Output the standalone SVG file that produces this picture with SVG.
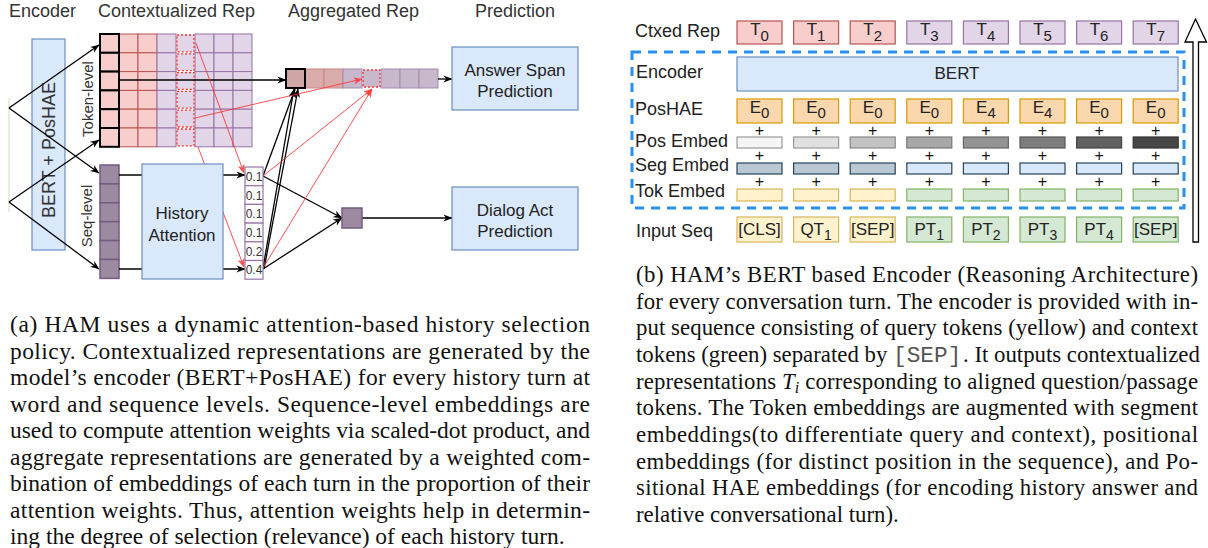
<svg xmlns="http://www.w3.org/2000/svg" width="1208" height="548" viewBox="0 0 1208 548">
<defs>
<marker id="ab" viewBox="0 0 10 10" refX="9.5" refY="5" markerWidth="9" markerHeight="9" markerUnits="userSpaceOnUse" orient="auto"><path d="M0,1 L10,5 L0,9 L3,5 z" fill="#000"/></marker>
<marker id="ar" viewBox="0 0 10 10" refX="9.5" refY="5" markerWidth="9" markerHeight="9" markerUnits="userSpaceOnUse" orient="auto"><path d="M0,1 L10,5 L0,9 L3,5 z" fill="#ff3333"/></marker>
<style>
.hd{font-family:"Liberation Sans",Arial,sans-serif;font-size:18px;fill:#333}
.lb{font-family:"Liberation Sans",Arial,sans-serif;font-size:18px;fill:#222}
.sm{font-family:"Liberation Sans",Arial,sans-serif;font-size:15px;fill:#333}
.wt{font-family:"Liberation Sans",Arial,sans-serif;font-size:12px;fill:#333}
.bx{font-family:"Liberation Sans",Arial,sans-serif;font-size:17px;fill:#222;text-anchor:middle}
.pl{font-family:"Liberation Sans",Arial,sans-serif;font-size:16px;fill:#111;text-anchor:middle}
.cap{font-family:"Liberation Serif","Times New Roman",serif;font-size:23.5px;fill:#111}
.capb{font-family:"Liberation Serif","Times New Roman",serif;font-size:22.8px;fill:#111}
.mono{font-family:"Liberation Mono",monospace;font-size:22.8px;fill:#555}
.blue{fill:#dae8fc;stroke:#6c8ebf;stroke-width:1.2}
.pk{fill:#f8cecc;stroke:#b85450;stroke-width:1}
.pu{fill:#e1d5e7;stroke:#9673a6;stroke-width:1}
.tokc{fill:#f8cecc;stroke:#000;stroke-width:2}
.dot{fill:#e1d5e7;stroke:#ff3333;stroke-width:1.3;stroke-dasharray:2 2}
.sq{fill:#9b8aa0;stroke:#735b82;stroke-width:1.5}
.w{fill:#fff;stroke:#9673a6;stroke-width:1.2}
.ak{fill:#cfa6a6;stroke:#000;stroke-width:2}
.ap{fill:#d9abab;stroke:#c98686;stroke-width:1}
.au{fill:#c8b8cc;stroke:#a58bb0;stroke-width:1}
.ad{fill:#c8b8cc;stroke:#ff3333;stroke-width:1.3;stroke-dasharray:2 2}
.cb{stroke:#000;stroke-width:1.3;fill:none}
.cr{stroke:#ff3333;stroke-width:1;fill:none;opacity:0.85}
.ctp{fill:#f8cecc;stroke:#b85450;stroke-width:1.2}
.ctu{fill:#e1d5e7;stroke:#9673a6;stroke-width:1.2}
.ph{fill:#fad7ac;stroke:#d79b00;stroke-width:1.2}
.sg1{fill:#bac8d3;stroke:#23445d;stroke-width:1.2}
.sg2{fill:#dae8fc;stroke:#23445d;stroke-width:1.2}
.ty{fill:#fff2cc;stroke:#d6b656;stroke-width:1.2}
.tg{fill:#d5e8d4;stroke:#82b366;stroke-width:1.2}
</style>
</defs>
<rect width="1208" height="548" fill="#fff"/>

<!-- ===== Left diagram ===== -->
<g id="headers">
<text class="hd" x="9" y="17">Encoder</text>
<text class="hd" x="98" y="17">Contextualized Rep</text>
<text class="hd" x="288" y="17">Aggregated Rep</text>
<text class="hd" x="475" y="17">Prediction</text>
</g>

<g id="encoder-a">
<rect class="blue" x="32" y="39" width="33" height="211"/>
<text class="hd" transform="translate(55,150) rotate(-90)" text-anchor="middle" fill="#222">BERT + PosHAE</text>
<line x1="9" y1="98" x2="9" y2="212" stroke="#c5e0b4" stroke-width="1"/>
</g>

<g id="token-level">
<g>
<rect class="pk" x="119" y="34" width="19" height="18.8"/><rect class="pk" x="138" y="34" width="19" height="18.8"/>
<rect class="pk" x="119" y="52.8" width="19" height="18.8"/><rect class="pk" x="138" y="52.8" width="19" height="18.8"/>
<rect class="pk" x="119" y="71.6" width="19" height="18.8"/><rect class="pk" x="138" y="71.6" width="19" height="18.8"/>
<rect class="pk" x="119" y="90.4" width="19" height="18.8"/><rect class="pk" x="138" y="90.4" width="19" height="18.8"/>
<rect class="pk" x="119" y="109.2" width="19" height="18.8"/><rect class="pk" x="138" y="109.2" width="19" height="18.8"/>
<rect class="pk" x="119" y="128" width="19" height="18.8"/><rect class="pk" x="138" y="128" width="19" height="18.8"/>
</g>
<g>
<rect class="pu" x="157" y="34" width="19" height="18.8"/><rect class="pu" x="195" y="34" width="19" height="18.8"/><rect class="pu" x="214" y="34" width="19" height="18.8"/><rect class="pu" x="233" y="34" width="19" height="18.8"/>
<rect class="pu" x="157" y="52.8" width="19" height="18.8"/><rect class="pu" x="195" y="52.8" width="19" height="18.8"/><rect class="pu" x="214" y="52.8" width="19" height="18.8"/><rect class="pu" x="233" y="52.8" width="19" height="18.8"/>
<rect class="pu" x="157" y="71.6" width="19" height="18.8"/><rect class="pu" x="195" y="71.6" width="19" height="18.8"/><rect class="pu" x="214" y="71.6" width="19" height="18.8"/><rect class="pu" x="233" y="71.6" width="19" height="18.8"/>
<rect class="pu" x="157" y="90.4" width="19" height="18.8"/><rect class="pu" x="195" y="90.4" width="19" height="18.8"/><rect class="pu" x="214" y="90.4" width="19" height="18.8"/><rect class="pu" x="233" y="90.4" width="19" height="18.8"/>
<rect class="pu" x="157" y="109.2" width="19" height="18.8"/><rect class="pu" x="195" y="109.2" width="19" height="18.8"/><rect class="pu" x="214" y="109.2" width="19" height="18.8"/><rect class="pu" x="233" y="109.2" width="19" height="18.8"/>
<rect class="pu" x="157" y="128" width="19" height="18.8"/><rect class="pu" x="195" y="128" width="19" height="18.8"/><rect class="pu" x="214" y="128" width="19" height="18.8"/><rect class="pu" x="233" y="128" width="19" height="18.8"/>
</g>
<g>
<rect class="dot" x="177" y="35" width="17" height="16.8"/>
<rect class="dot" x="177" y="53.8" width="17" height="16.8"/>
<rect class="dot" x="177" y="72.6" width="17" height="16.8"/>
<rect class="dot" x="177" y="91.4" width="17" height="16.8"/>
<rect class="dot" x="177" y="110.2" width="17" height="16.8"/>
<rect class="dot" x="177" y="129" width="17" height="16.8"/>
</g>
<g>
<rect class="tokc" x="100" y="34" width="19" height="18.8"/>
<rect class="tokc" x="100" y="52.8" width="19" height="18.8"/>
<rect class="tokc" x="100" y="71.6" width="19" height="18.8"/>
<rect class="tokc" x="100" y="90.4" width="19" height="18.8"/>
<rect class="tokc" x="100" y="109.2" width="19" height="18.8"/>
<rect class="tokc" x="100" y="128" width="19" height="18.8"/>
</g>
<text class="sm" transform="translate(93,99) rotate(-90)" text-anchor="middle">Token-level</text>
</g>

<g id="seq-level">
<rect class="sq" x="100" y="165" width="19" height="18.9"/>
<rect class="sq" x="100" y="183.9" width="19" height="18.9"/>
<rect class="sq" x="100" y="202.8" width="19" height="18.9"/>
<rect class="sq" x="100" y="221.7" width="19" height="18.9"/>
<rect class="sq" x="100" y="240.6" width="19" height="18.9"/>
<rect class="sq" x="100" y="259.5" width="19" height="18.9"/>
<text class="sm" transform="translate(92,216) rotate(-90)" text-anchor="middle">Seq-level</text>
</g>

<g id="agg-token">
<rect class="ap" x="305" y="69" width="19" height="19"/>
<rect class="ap" x="324" y="69" width="19" height="19"/>
<rect class="au" x="343" y="69" width="19" height="19"/>
<rect class="au" x="381" y="69" width="19" height="19"/>
<rect class="au" x="400" y="69" width="19" height="19"/>
<rect class="au" x="419" y="69" width="19" height="19"/>
<rect class="ad" x="363" y="70" width="17" height="17"/>
<rect class="ak" x="286" y="69" width="19" height="19"/>
</g>

<g id="connectors">
<line class="cb" x1="9" y1="108" x2="99" y2="45" marker-end="url(#ab)"/>
<line class="cb" x1="9" y1="108" x2="99" y2="173" marker-end="url(#ab)"/>
<line class="cb" x1="9" y1="202" x2="99" y2="140" marker-end="url(#ab)"/>
<line class="cb" x1="9" y1="202" x2="99" y2="269" marker-end="url(#ab)"/>
<line class="cb" x1="119" y1="80" x2="286" y2="80" marker-end="url(#ab)"/>
<line class="cb" x1="119" y1="175" x2="245" y2="175" marker-end="url(#ab)"/>
<line class="cb" x1="119" y1="269" x2="245" y2="269" marker-end="url(#ab)"/>
<line class="cb" x1="263" y1="176" x2="295" y2="89" marker-end="url(#ab)"/>
<line class="cb" x1="263" y1="268" x2="294" y2="89" marker-end="url(#ab)"/>
<line class="cb" x1="264" y1="269" x2="298" y2="89" marker-end="url(#ab)"/>
<line class="cb" x1="263" y1="176" x2="342" y2="218" marker-end="url(#ab)"/>
<line class="cb" x1="263" y1="269" x2="342" y2="218" marker-end="url(#ab)"/>
<line class="cb" x1="362" y1="218" x2="452" y2="218" marker-end="url(#ab)"/>
<line class="cb" x1="438" y1="79" x2="452" y2="79" marker-end="url(#ab)"/>
<line class="cr" x1="196" y1="43" x2="244" y2="173" marker-end="url(#ar)"/>
<line class="cr" x1="198" y1="147" x2="244" y2="267" marker-end="url(#ar)" opacity="0.5"/>
<line class="cr" x1="195" y1="118" x2="362" y2="79" marker-end="url(#ar)"/>
<line class="cr" x1="263" y1="176" x2="372" y2="89" marker-end="url(#ar)"/>
<line class="cr" x1="263" y1="268" x2="372" y2="89" marker-end="url(#ar)"/>
</g>

<g id="history-attention">
<rect class="blue" x="142" y="164" width="81" height="115"/>
<text class="bx" x="182" y="219" font-size="18">History</text>
<text class="bx" x="182" y="241" font-size="18">Attention</text>
</g>

<g id="weights">
<rect class="w" x="245" y="167" width="18" height="18.7"/>
<rect class="w" x="245" y="185.7" width="18" height="18.7"/>
<rect class="w" x="245" y="204.4" width="18" height="18.7"/>
<rect class="w" x="245" y="223.1" width="18" height="18.7"/>
<rect class="w" x="245" y="241.8" width="18" height="18.7"/>
<rect class="w" x="245" y="260.5" width="18" height="18.7"/>
<text class="wt" x="254" y="181" text-anchor="middle">0.1</text>
<text class="wt" x="254" y="199.5" text-anchor="middle">0.1</text>
<text class="wt" x="254" y="218.2" text-anchor="middle">0.1</text>
<text class="wt" x="254" y="236.9" text-anchor="middle">0.1</text>
<text class="wt" x="254" y="255.6" text-anchor="middle">0.2</text>
<text class="wt" x="254" y="274.3" text-anchor="middle">0.4</text>
</g>

<g id="agg-seq">
<rect class="sq" x="342" y="208" width="20" height="20"/>
</g>

<g id="answer-span">
<rect class="blue" x="452" y="47" width="126" height="63"/>
<text class="bx" x="515" y="76" font-size="18">Answer Span</text>
<text class="bx" x="515" y="97" font-size="18">Prediction</text>
</g>

<g id="dialog-act">
<rect class="blue" x="452" y="187" width="126" height="63"/>
<text class="bx" x="515" y="216" font-size="18">Dialog Act</text>
<text class="bx" x="515" y="237" font-size="18">Prediction</text>
</g>

<!-- ===== Right diagram ===== -->
<g id="row-labels">
<text class="lb" x="635" y="37">Ctxed Rep</text>
<text class="lb" x="636" y="78">Encoder</text>
<text class="lb" x="635" y="115">PosHAE</text>
<text class="lb" x="635" y="147">Pos Embed</text>
<text class="lb" x="635" y="171">Seg Embed</text>
<text class="lb" x="635" y="197">Tok Embed</text>
<text class="lb" x="636" y="237">Input Seq</text>
</g>

<g id="encoder-frame">
<rect x="632" y="52" width="552" height="156" fill="none" stroke="#2b8ff0" stroke-width="3" stroke-dasharray="9 7"/>
</g>

<g id="ctxed-rep">
<rect class="ctp" x="737" y="21" width="45" height="23"/><text class="bx" x="759.5" y="35">T<tspan dy="6" font-size="15">0</tspan></text>
<rect class="ctp" x="793.6" y="21" width="45" height="23"/><text class="bx" x="816.1" y="35">T<tspan dy="6" font-size="15">1</tspan></text>
<rect class="ctp" x="850.2" y="21" width="45" height="23"/><text class="bx" x="872.7" y="35">T<tspan dy="6" font-size="15">2</tspan></text>
<rect class="ctu" x="906.8" y="21" width="45" height="23"/><text class="bx" x="929.3" y="35">T<tspan dy="6" font-size="15">3</tspan></text>
<rect class="ctu" x="963.4" y="21" width="45" height="23"/><text class="bx" x="985.9" y="35">T<tspan dy="6" font-size="15">4</tspan></text>
<rect class="ctu" x="1020" y="21" width="45" height="23"/><text class="bx" x="1042.5" y="35">T<tspan dy="6" font-size="15">5</tspan></text>
<rect class="ctu" x="1076.6" y="21" width="45" height="23"/><text class="bx" x="1099.1" y="35">T<tspan dy="6" font-size="15">6</tspan></text>
<rect class="ctu" x="1133.2" y="21" width="45" height="23"/><text class="bx" x="1155.7" y="35">T<tspan dy="6" font-size="15">7</tspan></text>
</g>

<g id="bert">
<rect class="blue" x="737" y="57" width="441" height="34"/>
<text class="bx" x="957" y="79">BERT</text>
</g>

<g id="poshae">
<rect class="ph" x="737" y="99" width="45" height="24"/><text class="bx" x="759.5" y="113">E<tspan dy="5" font-size="15">0</tspan></text>
<rect class="ph" x="793.6" y="99" width="45" height="24"/><text class="bx" x="816.1" y="113">E<tspan dy="5" font-size="15">0</tspan></text>
<rect class="ph" x="850.2" y="99" width="45" height="24"/><text class="bx" x="872.7" y="113">E<tspan dy="5" font-size="15">0</tspan></text>
<rect class="ph" x="906.8" y="99" width="45" height="24"/><text class="bx" x="929.3" y="113">E<tspan dy="5" font-size="15">0</tspan></text>
<rect class="ph" x="963.4" y="99" width="45" height="24"/><text class="bx" x="985.9" y="113">E<tspan dy="5" font-size="15">4</tspan></text>
<rect class="ph" x="1020" y="99" width="45" height="24"/><text class="bx" x="1042.5" y="113">E<tspan dy="5" font-size="15">4</tspan></text>
<rect class="ph" x="1076.6" y="99" width="45" height="24"/><text class="bx" x="1099.1" y="113">E<tspan dy="5" font-size="15">0</tspan></text>
<rect class="ph" x="1133.2" y="99" width="45" height="24"/><text class="bx" x="1155.7" y="113">E<tspan dy="5" font-size="15">0</tspan></text>
</g>

<g id="plus-signs">
<text class="pl" x="759.5" y="136">+</text><text class="pl" x="816.1" y="136">+</text><text class="pl" x="872.7" y="136">+</text><text class="pl" x="929.3" y="136">+</text><text class="pl" x="985.9" y="136">+</text><text class="pl" x="1042.5" y="136">+</text><text class="pl" x="1099.1" y="136">+</text><text class="pl" x="1155.7" y="136">+</text>
<text class="pl" x="759.5" y="161">+</text><text class="pl" x="816.1" y="161">+</text><text class="pl" x="872.7" y="161">+</text><text class="pl" x="929.3" y="161">+</text><text class="pl" x="985.9" y="161">+</text><text class="pl" x="1042.5" y="161">+</text><text class="pl" x="1099.1" y="161">+</text><text class="pl" x="1155.7" y="161">+</text>
<text class="pl" x="759.5" y="187">+</text><text class="pl" x="816.1" y="187">+</text><text class="pl" x="872.7" y="187">+</text><text class="pl" x="929.3" y="187">+</text><text class="pl" x="985.9" y="187">+</text><text class="pl" x="1042.5" y="187">+</text><text class="pl" x="1099.1" y="187">+</text><text class="pl" x="1155.7" y="187">+</text>
</g>

<g id="pos-embed">
<rect x="737" y="137" width="45" height="11" fill="#f5f5f5" stroke="#9a9a9a" stroke-width="1.2"/>
<rect x="793.6" y="137" width="45" height="11" fill="#e0e0e0" stroke="#999" stroke-width="1.2"/>
<rect x="850.2" y="137" width="45" height="11" fill="#c2c2c2" stroke="#888" stroke-width="1.2"/>
<rect x="906.8" y="137" width="45" height="11" fill="#a8a8a8" stroke="#777" stroke-width="1.2"/>
<rect x="963.4" y="137" width="45" height="11" fill="#939393" stroke="#666" stroke-width="1.2"/>
<rect x="1020" y="137" width="45" height="11" fill="#7d7d7d" stroke="#555" stroke-width="1.2"/>
<rect x="1076.6" y="137" width="45" height="11" fill="#616161" stroke="#444" stroke-width="1.2"/>
<rect x="1133.2" y="137" width="45" height="11" fill="#474747" stroke="#333" stroke-width="1.2"/>
</g>

<g id="seg-embed">
<rect class="sg1" x="737" y="163" width="45" height="11"/>
<rect class="sg1" x="793.6" y="163" width="45" height="11"/>
<rect class="sg1" x="850.2" y="163" width="45" height="11"/>
<rect class="sg2" x="906.8" y="163" width="45" height="11"/>
<rect class="sg2" x="963.4" y="163" width="45" height="11"/>
<rect class="sg2" x="1020" y="163" width="45" height="11"/>
<rect class="sg2" x="1076.6" y="163" width="45" height="11"/>
<rect class="sg2" x="1133.2" y="163" width="45" height="11"/>
</g>

<g id="tok-embed">
<rect class="ty" x="737" y="189" width="45" height="12"/>
<rect class="ty" x="793.6" y="189" width="45" height="12"/>
<rect class="ty" x="850.2" y="189" width="45" height="12"/>
<rect class="tg" x="906.8" y="189" width="45" height="12"/>
<rect class="tg" x="963.4" y="189" width="45" height="12"/>
<rect class="tg" x="1020" y="189" width="45" height="12"/>
<rect class="tg" x="1076.6" y="189" width="45" height="12"/>
<rect class="tg" x="1133.2" y="189" width="45" height="12"/>
</g>

<g id="input-seq">
<rect class="ty" x="737" y="217" width="45" height="25"/><text class="bx" x="759.5" y="235" font-size="16">[CLS]</text>
<rect class="ty" x="793.6" y="217" width="45" height="25"/><text class="bx" x="816.1" y="235">QT<tspan dy="5" font-size="14">1</tspan></text>
<rect class="ty" x="850.2" y="217" width="45" height="25"/><text class="bx" x="872.7" y="235" font-size="16">[SEP]</text>
<rect class="tg" x="906.8" y="217" width="45" height="25"/><text class="bx" x="929.3" y="235">PT<tspan dy="5" font-size="14">1</tspan></text>
<rect class="tg" x="963.4" y="217" width="45" height="25"/><text class="bx" x="985.9" y="235">PT<tspan dy="5" font-size="14">2</tspan></text>
<rect class="tg" x="1020" y="217" width="45" height="25"/><text class="bx" x="1042.5" y="235">PT<tspan dy="5" font-size="14">3</tspan></text>
<rect class="tg" x="1076.6" y="217" width="45" height="25"/><text class="bx" x="1099.1" y="235">PT<tspan dy="5" font-size="14">4</tspan></text>
<rect class="tg" x="1133.2" y="217" width="45" height="25"/><text class="bx" x="1155.7" y="235" font-size="16">[SEP]</text>
</g>

<g id="flow-arrow">
<polygon points="1195.5,19 1206.5,42 1198.5,42 1198.5,242 1193,242 1193,42 1185,42" fill="#fff" stroke="#000" stroke-width="1.3" stroke-linejoin="miter"/>
</g>

<!-- ===== Captions ===== -->
<g id="caption-a" class="cap">
<text x="10" y="332" textLength="580" lengthAdjust="spacing">(a) HAM uses a dynamic attention-based history selection</text>
<text x="10" y="358.5" textLength="580" lengthAdjust="spacing">policy. Contextualized representations are generated by the</text>
<text x="10" y="385" textLength="580" lengthAdjust="spacing">model’s encoder (BERT+PosHAE) for every history turn at</text>
<text x="10" y="411.5" textLength="580" lengthAdjust="spacing">word and sequence levels. Sequence-level embeddings are</text>
<text x="10" y="438" textLength="580" lengthAdjust="spacing">used to compute attention weights via scaled-dot product, and</text>
<text x="10" y="464.5" textLength="580" lengthAdjust="spacing">aggregate representations are generated by a weighted com-</text>
<text x="10" y="491" textLength="580" lengthAdjust="spacing">bination of embeddings of each turn in the proportion of their</text>
<text x="10" y="517.5" textLength="580" lengthAdjust="spacing">attention weights. Thus, attention weights help in determin-</text>
<text x="10" y="544">ing the degree of selection (relevance) of each history turn.</text>
</g>

<g id="caption-b" class="capb">
<text x="636" y="282" textLength="562" lengthAdjust="spacing">(b) HAM’s BERT based Encoder (Reasoning Architecture)</text>
<text x="636" y="308.7" textLength="562" lengthAdjust="spacing">for every conversation turn. The encoder is provided with in-</text>
<text x="636" y="335.3" textLength="562" lengthAdjust="spacing">put sequence consisting of query tokens (yellow) and context</text>
<text x="636" y="362">tokens (green) separated by</text>
<text class="mono" x="893" y="362">[SEP]</text>
<text x="963" y="362">. It outputs contextualized</text>
<text x="636" y="388.7" textLength="562" lengthAdjust="spacing">representations <tspan font-style="italic">T</tspan><tspan font-style="italic" font-size="16" dy="4">i</tspan><tspan dy="-4"> corresponding to aligned question/passage</tspan></text>
<text x="636" y="415.3" textLength="562" lengthAdjust="spacing">tokens. The Token embeddings are augmented with segment</text>
<text x="636" y="442" textLength="562" lengthAdjust="spacing">embeddings(to differentiate query and context), positional</text>
<text x="636" y="468.7" textLength="562" lengthAdjust="spacing">embeddings (for distinct position in the sequence), and Po-</text>
<text x="636" y="495.3" textLength="562" lengthAdjust="spacing">sitional HAE embeddings (for encoding history answer and</text>
<text x="636" y="522">relative conversational turn).</text>
</g>
</svg>
